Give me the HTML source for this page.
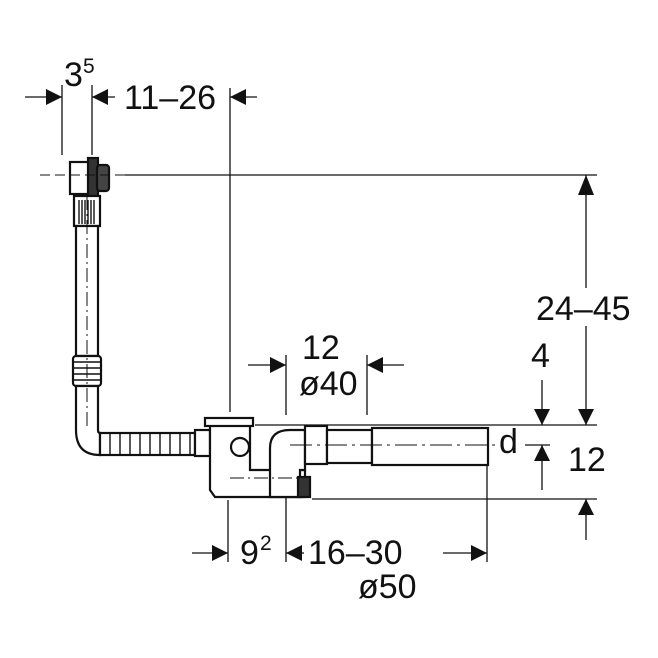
<!DOCTYPE html>
<html><head><meta charset="utf-8"><style>
html,body{margin:0;padding:0;background:#fff;}
svg{display:block;}
text{font-family:"Liberation Sans",Arial,sans-serif;fill:#111;}
</style></head><body>
<svg width="658" height="658" viewBox="0 0 658 658" xmlns="http://www.w3.org/2000/svg">
<defs>
<marker id="a" viewBox="0 0 10 10" refX="10" refY="5" markerWidth="16" markerHeight="16" markerUnits="userSpaceOnUse" orient="auto"><path d="M0,0 L10,5 L0,10 z" fill="#111"/></marker>
</defs>
<g stroke="#111" stroke-width="1.3" fill="none">
<line x1="62" y1="85" x2="62" y2="155"/>
<line x1="92" y1="85" x2="92" y2="155"/>
<line x1="230" y1="88" x2="230" y2="412"/>
<line x1="228" y1="500" x2="228" y2="562"/>
<line x1="286" y1="355" x2="286" y2="415"/>
<line x1="286" y1="498" x2="286" y2="562"/>
<line x1="367" y1="355" x2="367" y2="415"/>
<line x1="487" y1="465" x2="487" y2="562"/>
<line x1="125" y1="175" x2="597" y2="175"/>
<line x1="255" y1="425" x2="597" y2="425"/>
<line x1="312" y1="499" x2="597" y2="499"/>
<line x1="525" y1="445" x2="550" y2="445"/>
<line x1="25" y1="97" x2="62" y2="97" marker-end="url(#a)"/>
<line x1="115" y1="97" x2="92" y2="97" marker-end="url(#a)"/>
<line x1="257" y1="97" x2="230" y2="97" marker-end="url(#a)"/>
<line x1="248" y1="365" x2="286" y2="365" marker-end="url(#a)"/>
<line x1="404" y1="365" x2="367" y2="365" marker-end="url(#a)"/>
<line x1="586" y1="175" x2="586" y2="425" marker-end="url(#a)"/>
<line x1="586" y1="540" x2="586" y2="499" marker-end="url(#a)"/>
<line x1="542" y1="380" x2="542" y2="425" marker-end="url(#a)"/>
<line x1="542" y1="490" x2="542" y2="445" marker-end="url(#a)"/>
<line x1="192" y1="553" x2="228" y2="553" marker-end="url(#a)"/>
<line x1="304" y1="553" x2="286" y2="553" marker-end="url(#a)"/>
<line x1="443" y1="553" x2="487" y2="553" marker-end="url(#a)"/>
<path d="M578,195 L586,175 L594,195 z" fill="#111" stroke="none"/>
</g>
<rect x="532" y="288" width="106" height="38" fill="#fff"/>
<g stroke="#111" stroke-width="2.2" fill="#fff">
<rect x="70" y="162" width="22" height="32"/>
<rect x="88" y="158" width="10" height="40" fill="#333"/>
<rect x="97" y="165" width="12" height="26" rx="3" fill="#444"/>
<rect x="74" y="196" width="26" height="30"/>
<rect x="76" y="226" width="22" height="130"/>
<rect x="73" y="356" width="28" height="30" rx="3"/>
<path d="M76,386 L76,430 Q76,455 100,455 L100,433 Q98,433 98,430 L98,386 z"/>
<rect x="100" y="433" width="95" height="22"/>
<rect x="195" y="430" width="15" height="26"/>
<path d="M210,425 L250,425 L250,470 L305,470 L305,497 L215,497 L210,490 z"/>
<rect x="205" y="418" width="48" height="8"/>
<circle cx="240" cy="447" r="9"/>
<path d="M270,497 L270,448 Q270,430 290,430 L305,430 L305,470 L300,470 L300,497 z"/>
<rect x="298" y="477" width="12" height="20" fill="#333"/>
<rect x="305" y="426" width="22" height="38"/>
<rect x="327" y="430" width="45" height="33"/>
<rect x="372" y="428" width="116" height="37"/>
</g>
<g stroke="#111" stroke-width="1.4" fill="none">
<line x1="79" y1="200" x2="79" y2="224"/><line x1="82" y1="200" x2="82" y2="224"/><line x1="85" y1="200" x2="85" y2="224"/><line x1="88" y1="200" x2="88" y2="224"/><line x1="91" y1="200" x2="91" y2="224"/><line x1="94" y1="200" x2="94" y2="224"/>
<line x1="74" y1="362" x2="100" y2="362"/><line x1="74" y1="368" x2="100" y2="368"/><line x1="74" y1="374" x2="100" y2="374"/><line x1="74" y1="380" x2="100" y2="380"/>
<line x1="110" y1="433" x2="110" y2="455"/><line x1="120" y1="433" x2="120" y2="455"/><line x1="130" y1="433" x2="130" y2="455"/><line x1="140" y1="433" x2="140" y2="455"/><line x1="150" y1="433" x2="150" y2="455"/><line x1="160" y1="433" x2="160" y2="455"/><line x1="170" y1="433" x2="170" y2="455"/><line x1="180" y1="433" x2="180" y2="455"/><line x1="190" y1="433" x2="190" y2="455"/>
<line x1="87" y1="196" x2="87" y2="430" stroke-dasharray="14,4,2,4" stroke-width="1"/>
<line x1="290" y1="445" x2="500" y2="445" stroke-dasharray="22,5,3,5" stroke-width="1"/>
<line x1="230" y1="478" x2="300" y2="478" stroke-dasharray="14,4,2,4" stroke-width="1"/>
<line x1="40" y1="175" x2="125" y2="175" stroke-dasharray="10,5" stroke-width="1"/>
</g>
<text x="64" y="86" font-size="34">3</text><text x="83" y="73" font-size="21">5</text>
<text x="124" y="109" font-size="34">11–26</text>
<text x="302" y="359" font-size="34">12</text>
<text x="299" y="395" font-size="34">ø40</text>
<text x="531" y="367" font-size="34">4</text>
<text x="536" y="320" font-size="34">24–45</text>
<text x="499" y="453" font-size="34">d</text>
<text x="568" y="471" font-size="34">12</text>
<text x="240" y="564" font-size="34">9</text><text x="260" y="550" font-size="21">2</text>
<text x="308" y="564" font-size="34">16–30</text>
<text x="358" y="598" font-size="34">ø50</text>
</svg>
</body></html>
